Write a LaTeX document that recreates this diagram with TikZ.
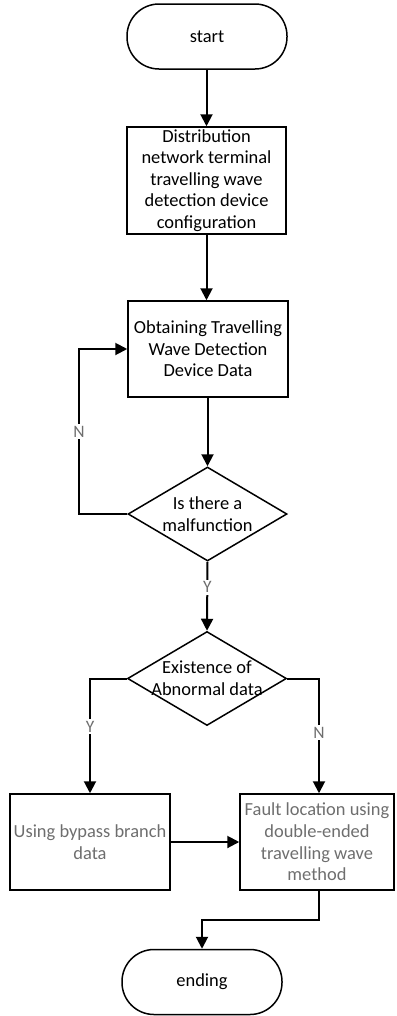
\documentclass[tikz,border=0pt]{standalone}
\usepackage{fontspec}
\setmainfont{Carlito}
\usetikzlibrary{shapes.geometric,arrows.meta}
\definecolor{txtgray}{HTML}{6E6E6E}
\begin{document}
\begin{tikzpicture}[x=1bp,y=-1bp,
  every node/.style={font=\fontsize{18.5}{21.7}\selectfont},
  term/.style={draw,line width=1.5bp,rounded corners=32bp,minimum width=160bp,minimum height=65bp,inner sep=0pt},
  proc/.style={draw,line width=1.5bp,minimum width=#1,minimum height=96bp,inner sep=0pt,align=center},
  dia/.style={draw,line width=1.5bp,shape=diamond,minimum width=159bp,minimum height=94bp,inner sep=0pt},
  txt/.style={align=center,inner sep=0pt},
  lbl/.style={text=txtgray,fill=white,inner sep=2bp,font=\fontsize{17.5}{19}\selectfont},
  arr/.style={line width=2bp,-{Triangle[length=12bp,width=12bp]}},
  ln/.style={line width=2bp}
]
\useasboundingbox (0,0) rectangle (396,1016);
\node[term] (start) at (207,36.5) {start};
\node[proc=159bp,minimum height=107bp] (b1) at (206.5,180.5) {Distribution\\network terminal\\travelling wave\\detection device\\configuration};
\node[proc=160bp] (b2) at (208,349) {Obtaining Travelling\\Wave Detection\\Device Data};
\node[dia] (d1) at (207.5,514) {};
\node[txt] at (207.5,514) {Is there a\\malfunction};
\node[dia] (d2) at (207,678.5) {};
\node[txt] at (207,678.5) {Existence of\\Abnormal data};
\node[proc=160bp,text=txtgray] (b3) at (90,842) {Using bypass branch\\data};
\node[proc=154bp,text=txtgray] (b4) at (317,842) {Fault location using\\double-ended\\travelling wave\\method};
\node[term] (end) at (202,982) {ending};

\coordinate (lx) at (79,514);
\coordinate (rx) at (319,678.5);
\coordinate (ex) at (202,920);

\draw[arr] (start.south -| b1.north) -- (b1.north);
\draw[arr] (b1.south) -- (b1.south |- b2.north);
\draw[arr] (b2.south -| d1.north) -- (d1.north);
\draw[arr] (d1.west) -- (lx) |- (b2.west) node[pos=0.25,lbl] {N};
\draw[arr] (d1.south) -- (d2.north) node[pos=0.37,lbl] {Y};
\draw[arr] (d2.west) -| (b3.north) node[pos=0.71,lbl] {Y};
\draw[arr] (d2.east) -- (rx) -- (rx |- b4.north) node[pos=0.47,lbl] {N};
\draw[arr] (b3.east) -- (b4.west);
\draw[arr] (b4.south -| rx) |- (ex) -- (end.north);
\end{tikzpicture}
\end{document}
